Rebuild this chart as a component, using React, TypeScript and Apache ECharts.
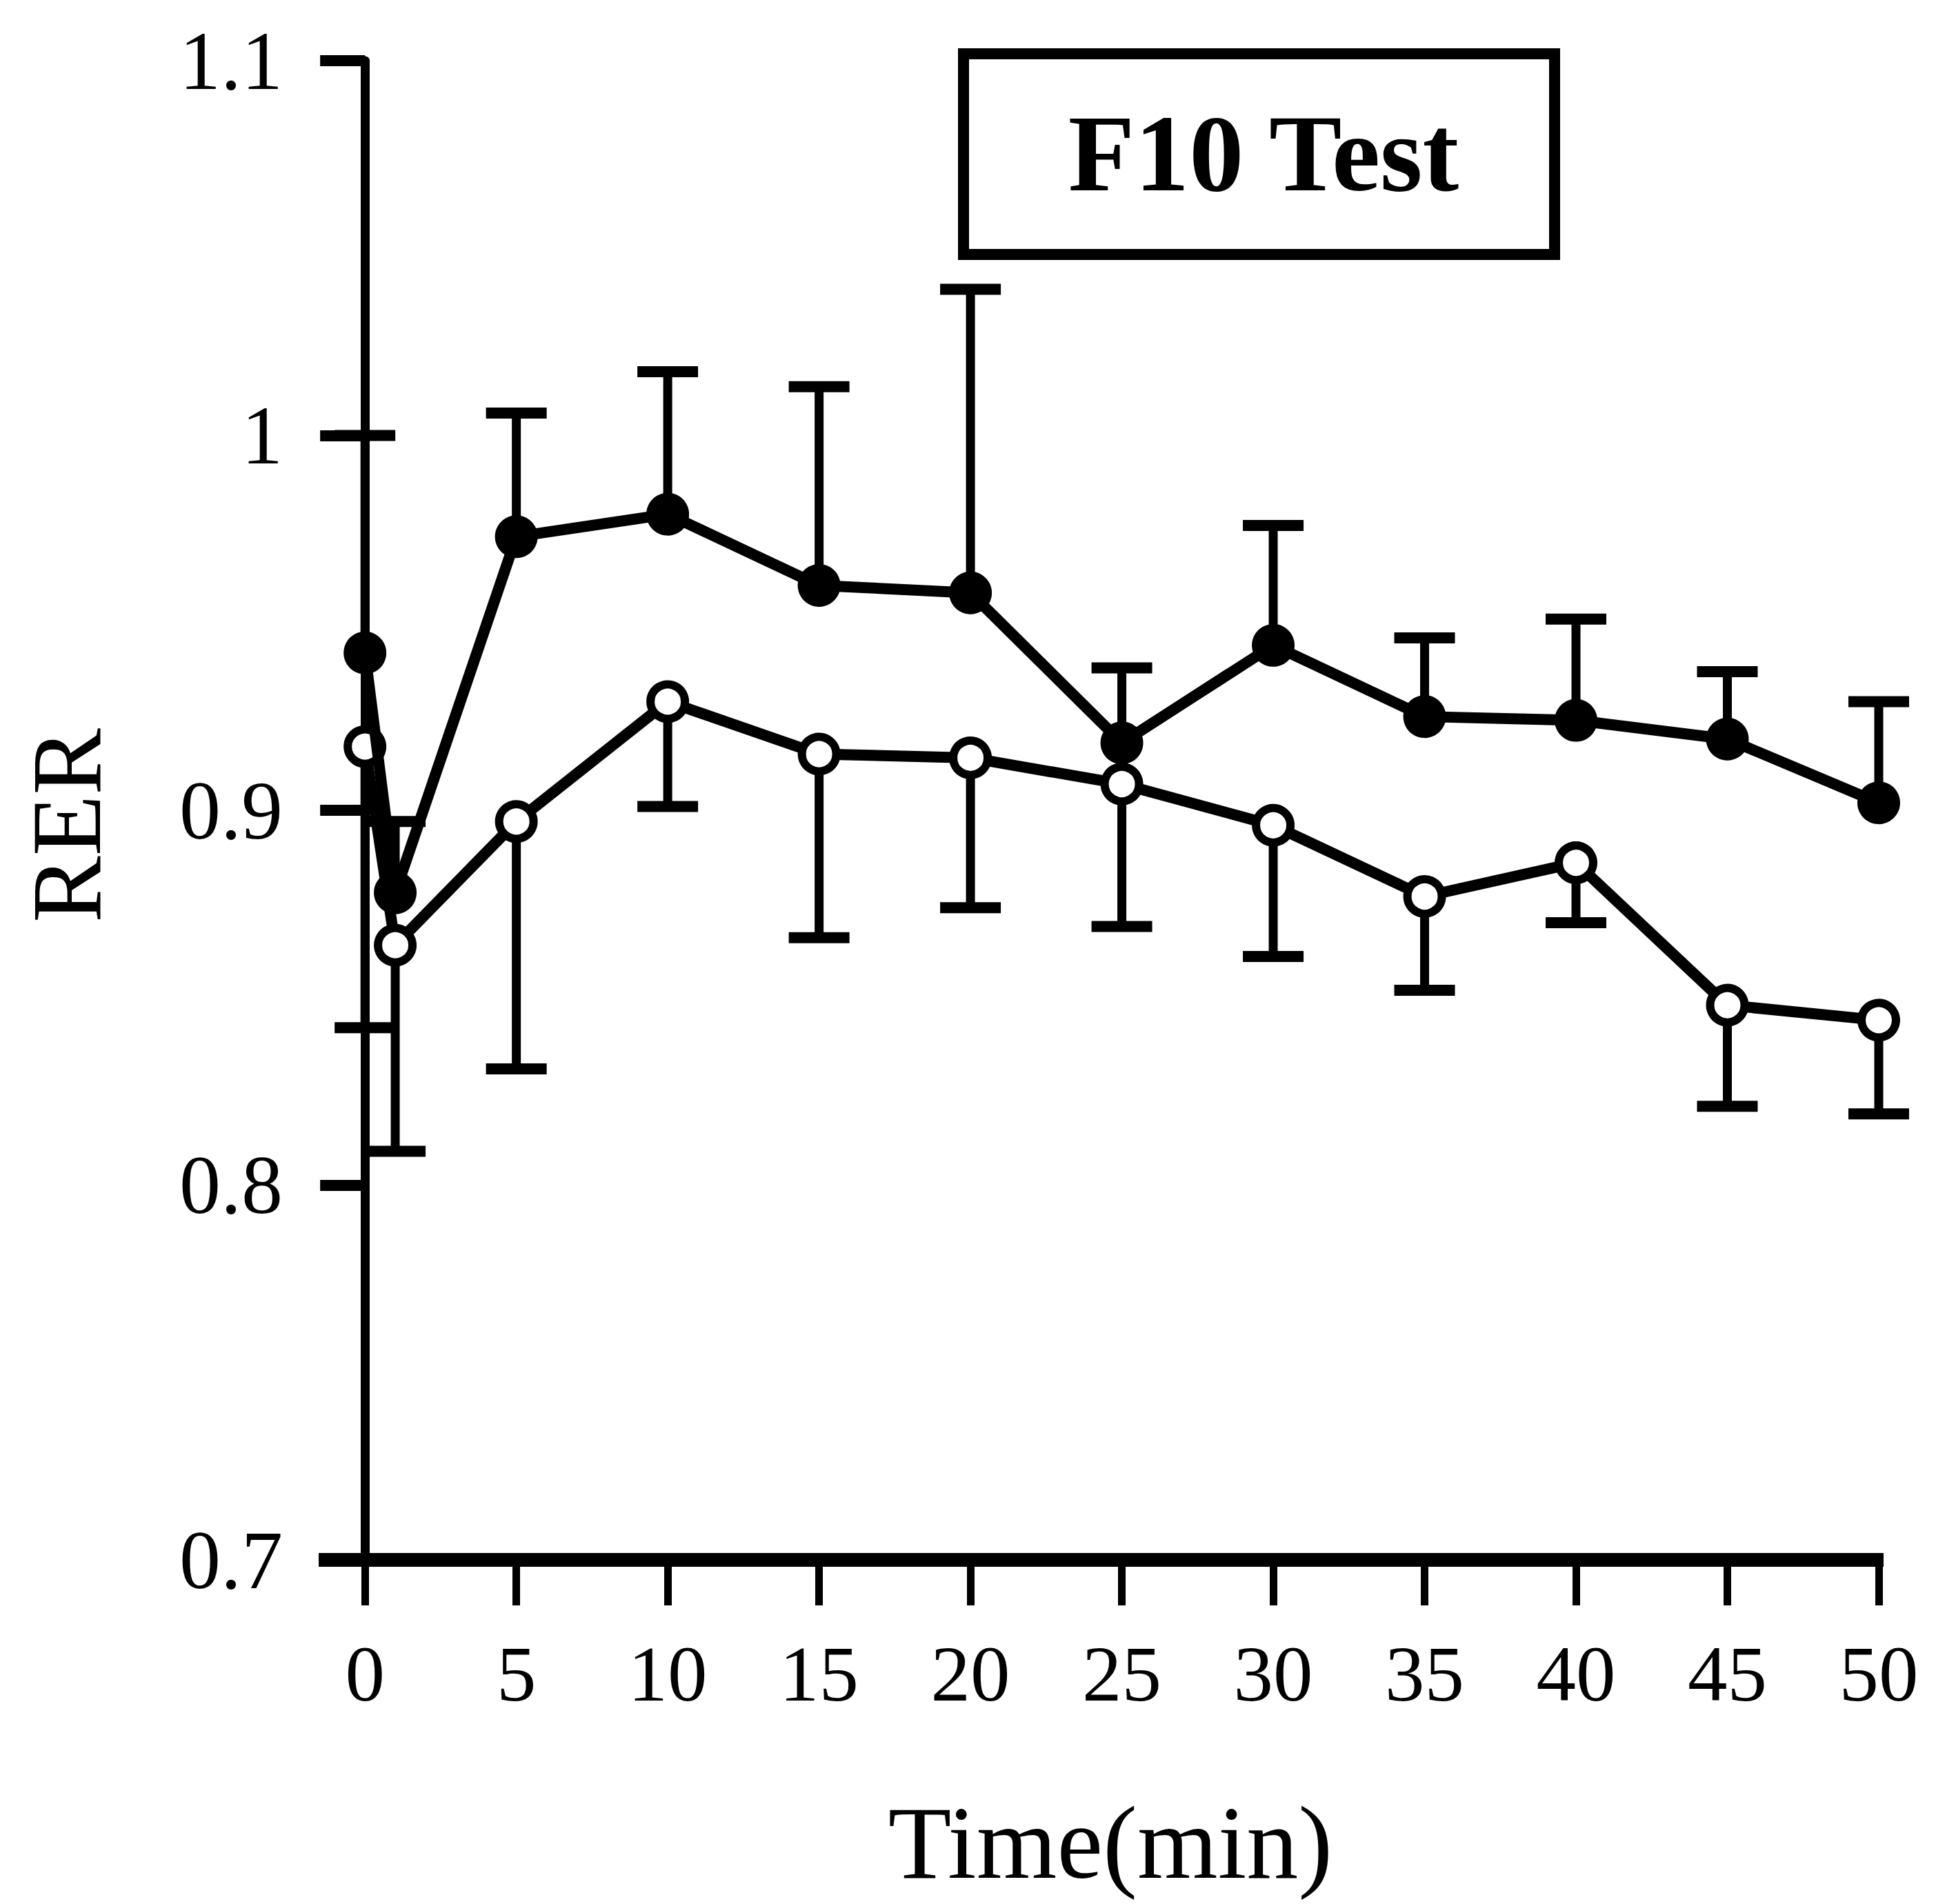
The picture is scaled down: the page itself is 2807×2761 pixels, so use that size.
import React, { useEffect, useRef } from "react";
import * as echarts from "echarts";

// Time points (min)
const times = [0, 1, 5, 10, 15, 20, 25, 30, 35, 40, 45, 50];
// Closed circles: mean RER and upper error bar end
const filledMean = [0.942, 0.878, 0.973, 0.979, 0.96, 0.958, 0.918, 0.944, 0.925, 0.924, 0.919, 0.902];
const filledUpper = [1.0, 0.897, 1.006, 1.017, 1.013, 1.039, 0.938, 0.976, 0.946, 0.951, 0.937, 0.929];
// Open circles: mean RER and lower error bar end
const openMean = [0.917, 0.864, 0.897, 0.929, 0.915, 0.914, 0.907, 0.896, 0.877, 0.886, 0.848, 0.844];
const openLower = [0.842, 0.809, 0.831, 0.901, 0.866, 0.874, 0.869, 0.861, 0.852, 0.87, 0.821, 0.819];
// Tick values
const xTicks = [0, 5, 10, 15, 20, 25, 30, 35, 40, 45, 50];
const yTickLabels: Record<string, string> = { "0.7": "0.7", "0.8": "0.8", "0.9": "0.9", "1": "1", "1.1": "1.1" };

const FONT = "'Liberation Serif', 'DejaVu Serif', serif";

function errorRender(params: any, api: any) {
  const x = api.value(0);
  const m = api.value(1);
  const e = api.value(2);
  const p0 = api.coord([x, m]);
  const p1 = api.coord([x, e]);
  return {
    type: "group",
    children: [
      {
        type: "line",
        shape: { x1: p0[0], y1: p0[1], x2: p1[0], y2: p1[1] },
        style: { stroke: "#000", lineWidth: 13 },
      },
      {
        type: "line",
        shape: { x1: p1[0] - 44, y1: p1[1], x2: p1[0] + 44, y2: p1[1] },
        style: { stroke: "#000", lineWidth: 16 },
      },
    ],
  };
}

export default function App() {
  const ref = useRef<HTMLDivElement>(null);
  useEffect(() => {
    if (!ref.current) return;
    const chart = echarts.init(ref.current, undefined, { renderer: "svg" });
    const option: any = {
      animation: false,
      backgroundColor: "#fff",
      grid: { left: 462, right: 76, top: 88, bottom: 499, containLabel: false, outerBoundsMode: "none" },
      xAxis: {
        type: "value",
        min: -1.53,
        max: 50.16,
        axisLine: { show: true, onZero: false, lineStyle: { color: "#000", width: 20, cap: "butt" } },
        axisTick: { show: true, length: 66, lineStyle: { color: "#000", width: 11 }, customValues: xTicks },
        axisLabel: {
          show: true,
          customValues: xTicks,
          margin: 108,
          color: "#000",
          fontSize: 115,
          fontFamily: FONT,
          formatter: (v: number) => String(v),
        },
        splitLine: { show: false },
      },
      yAxis: {
        type: "value",
        min: 0.7,
        max: 1.1,
        interval: 0.1,
        axisLine: { show: true, onZero: true, lineStyle: { color: "#000", width: 13 } },
        axisTick: { show: true, length: 65, lineStyle: { color: "#000", width: 16 } },
        axisLabel: {
          show: true,
          margin: 52,
          color: "#000",
          fontSize: 120,
          fontFamily: FONT,
          padding: [16, 0, 0, 0],
          formatter: (v: number) => {
            const k = String(Math.round(v * 10) / 10);
            return yTickLabels[k] ?? k;
          },
        },
        splitLine: { show: false },
      },
      series: [
        {
          type: "custom",
          z: 1,
          renderItem: errorRender,
          encode: { x: 0, y: [1, 2] },
          data: times.map((t, i) => [t, openMean[i], openLower[i]]),
        },
        {
          type: "custom",
          z: 1,
          renderItem: errorRender,
          encode: { x: 0, y: [1, 2] },
          data: times.map((t, i) => [t, filledMean[i], filledUpper[i]]),
        },
        {
          type: "line",
          z: 3,
          data: times.map((t, i) => [t, openMean[i]]),
          symbol: "circle",
          symbolSize: 50,
          showAllSymbol: true,
          lineStyle: { color: "#000", width: 16 },
          itemStyle: { color: "#fff", borderColor: "#000", borderWidth: 12 },
        },
        {
          type: "line",
          z: 4,
          data: times.map((t, i) => [t, filledMean[i]]),
          symbol: "circle",
          symbolSize: 50,
          showAllSymbol: true,
          lineStyle: { color: "#000", width: 16 },
          itemStyle: { color: "#000", borderColor: "#000", borderWidth: 12 },
        },
      ],
      graphic: [
        {
          type: "rect",
          shape: { x: 1397, y: 78, width: 857, height: 291 },
          style: { fill: "#fff", stroke: "#000", lineWidth: 16 },
          z: 10,
        },
        {
          type: "text",
          x: 1832,
          y: 222,
          z: 11,
          style: {
            text: "F10 Test",
            font: `bold 158px ${FONT}`,
            fill: "#000",
            textAlign: "center",
            textVerticalAlign: "middle",
            align: "center",
            verticalAlign: "middle",
          },
        },
        {
          type: "text",
          x: 1610,
          y: 2672,
          z: 11,
          style: {
            text: "Time(min)",
            font: `150px ${FONT}`,
            fill: "#000",
            textAlign: "center",
            textVerticalAlign: "middle",
            align: "center",
            verticalAlign: "middle",
          },
        },
        {
          type: "text",
          x: 96,
          y: 1197,
          rotation: Math.PI / 2,
          z: 11,
          style: {
            text: "RER",
            font: `145px ${FONT}`,
            fill: "#000",
            textAlign: "center",
            textVerticalAlign: "middle",
            align: "center",
            verticalAlign: "middle",
          },
        },
      ],
    };
    chart.setOption(option);
    return () => chart.dispose();
  }, []);
  return (
    <div
      ref={ref}
      style={{ position: "absolute", left: 0, top: 0, width: 2807, height: 2761, background: "#fff" }}
    />
  );
}
